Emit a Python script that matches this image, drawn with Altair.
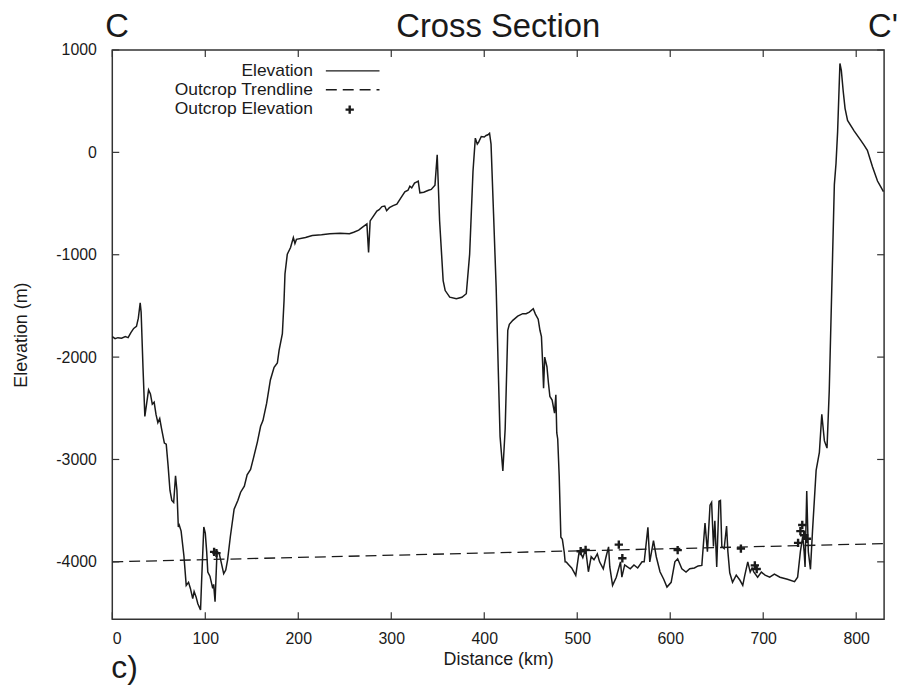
import altair as alt
import pandas as pd

# ---------------- data ----------------
dist = [0, 3, 6, 10, 14, 17, 20, 23, 26, 28, 30, 31, 33, 35, 37, 39, 41, 43, 45, 47,
        49, 51, 53, 56, 58, 60, 62, 64, 66, 68, 69.5, 71, 72, 74, 77, 79.5, 82, 84, 86.5, 88,
        90, 92, 94.9, 96, 98.4, 100, 101.5, 102.7, 105, 108, 109, 110.5, 112.6, 115, 117, 119.8, 122, 124, 127, 131,
        135, 138, 142, 145, 148.7, 152, 156, 159.5, 162, 166, 170, 174, 177.5, 179.4, 182.9, 184.7, 185.7, 188.2, 191.7, 194.7,
        196.4, 198, 207.8, 215, 225, 234, 245, 255, 259.6, 265, 268.4, 273.8, 275.6, 277.3, 281, 284.5, 287, 290, 293, 295,
        298, 302, 306, 310, 314.6, 318, 320, 322, 325, 327, 329, 330.8, 335, 340, 343, 347, 349.4, 352, 355.8, 358,
        362.9, 370, 376, 380.7, 384.3, 387.9, 390.4, 392.5, 394, 396.8, 400, 402, 404, 405.7, 407.3, 410, 412.8, 415, 417, 420,
        422.5, 425.3, 427, 430.7, 436, 441.4, 445, 448.5, 452.7, 455, 458, 459.9, 461.5, 462.8, 463.8, 465, 467.4, 469, 470.6, 473,
        475.6, 477, 478, 479, 480.6, 482.4, 484, 486, 487, 488.4, 491, 494, 498.4, 502, 504, 506, 509, 512, 515, 518,
        521.6, 524, 528, 531, 533.7, 535, 538, 542, 546.5, 548, 551, 554, 557, 561, 565, 569.7, 572, 576, 578, 582,
        585, 589, 593, 596.5, 601, 605, 608, 612.5, 617, 621, 626, 630, 634, 637.4, 640, 642.8, 644.5, 646.5, 648, 650,
        652.4, 654, 655.5, 658, 660.6, 662, 664, 667, 671, 675, 678, 680, 683.4, 686, 688, 690, 694, 698, 702, 707,
        712, 718, 726, 733.7, 737, 740, 742.5, 744, 745, 746.8, 748.5, 750.8, 753, 756.9, 760.4, 763, 765.8, 768.6, 771, 776.5,
        778.3, 780, 782.5, 784, 786, 788, 790.7, 797.9, 804, 808.6, 812, 817.5, 822.9, 826, 829.3]
elev = [-1800, -1820, -1810, -1815, -1800, -1810, -1760, -1720, -1700, -1620, -1470, -1560, -2100, -2580, -2450, -2320, -2360, -2460, -2440, -2560,
        -2640, -2600, -2700, -2840, -2850, -3060, -3300, -3400, -3420, -3160, -3300, -3660, -3640, -3700, -3940, -4230, -4200, -4260, -4360, -4290,
        -4340, -4410, -4470, -4200, -3660, -3720, -3900, -4100, -4140, -4260, -4220, -4390, -3905, -3920, -4000, -4116, -4080, -3980, -3750, -3485,
        -3400, -3320, -3260, -3150, -3097, -2980, -2830, -2676, -2620, -2450, -2223, -2100, -2058, -1932, -1770, -1447, -1188, -994, -929, -832,
        -890, -850, -832, -812, -805, -796, -790, -795, -780, -760, -735, -699, -977, -670, -620, -573, -560, -530, -524, -570,
        -540, -520, -505, -450, -385, -370, -330, -346, -300, -290, -281, -395, -390, -370, -362, -320, -23, -670, -1252, -1350,
        -1414, -1430, -1415, -1381, -994, -184, 139, 80, 100, 155, 150, 165, 172, 187, 80, -600, -1317, -2100, -2774, -3113,
        -2700, -1738, -1680, -1641, -1600, -1576, -1576, -1560, -1528, -1580, -1630, -1738, -1800, -2061, -2304, -2000, -2094, -2250, -2385, -2420,
        -2547, -2369, -2741, -2800, -3162, -3760, -3780, -3906, -4000, -4003, -4030, -4060, -4133, -3903, -3920, -3960, -3874, -4097, -3950, -3980,
        -3922, -4000, -4068, -3950, -3854, -4050, -4230, -4150, -4000, -4150, -4030, -4050, -4068, -4030, -4060, -4000, -4000, -3663, -4000, -3793,
        -3950, -4097, -4170, -4246, -4200, -4000, -3970, -4068, -4100, -4068, -4060, -4040, -4035, -3622, -3900, -3447, -3420, -3850, -3600, -4050,
        -3408, -3400, -3850, -3870, -3650, -3900, -4107, -4200, -4130, -4180, -4229, -4140, -4000, -4100, -4060, -4100, -4150, -4100, -4130, -4150,
        -4120, -4150, -4170, -4194, -4150, -3898, -3750, -3900, -4050, -3307, -3900, -4073, -3700, -3107, -2930, -2558, -2819, -2889, -2331, -315,
        -106, 200, 869, 800, 600, 430, 312, 208, 130, 68, 20, -140, -280, -330, -383]

outcrop_dist = [109.5, 112, 503.7, 509, 544.7, 548.5, 608, 676, 691, 693, 737.5, 740, 742, 744, 747]
outcrop_elev = [-3903, -3915, -3896, -3883, -3832, -3965, -3885, -3870, -4035, -4070, -3815, -3700, -3640, -3740, -3775]

trend_dist = [0, 830]
trend_elev = [-4000, -3822]

x_ticks = [0, 100, 200, 300, 400, 500, 600, 700, 800]
y_ticks = [-4000, -3000, -2000, -1000, 0, 1000]

legend_labels = ["Elevation", "Outcrop Trendline", "Outcrop Elevation"]
title_text = "Cross Section"
left_end = "C"
right_end = "C'"
panel_tag = "c)"

# ---------------- layout / style ----------------
W, H = 777, 573
FONT = "Liberation Sans"
INK = "#1a1a1a"
TICK = 7
XDOM = [0, 830]
YDOM = [-4560, 1000]
PLUS = "M-1,0L1,0M0,-1L0,1"

xs = alt.Scale(domain=XDOM, nice=False, zero=False)
ys = alt.Scale(domain=YDOM, nice=False, zero=False)

xaxis = alt.Axis(
    title="Distance (km)", values=x_ticks, ticks=False, domain=False, grid=False,
    labelFontSize=16, labelPadding=12, labelFont=FONT, labelColor=INK,
    labelExpr="'' + datum.value",
    titleFont=FONT, titleFontSize=18, titleFontWeight="normal", titleColor=INK,
    titleX=W / 2, titleY=41, titleBaseline="middle", titleAlign="center")
yaxis = alt.Axis(
    title="Elevation (m)", values=y_ticks, ticks=False, domain=False, grid=False,
    labelFontSize=16, labelPadding=16, labelFont=FONT, labelColor=INK,
    labelExpr="'' + datum.value",
    titleFont=FONT, titleFontSize=18, titleFontWeight="normal", titleColor=INK,
    titleX=-91, titleY=H / 2, titleBaseline="middle", titleAlign="center", titleAngle=270)


def X(field):
    return alt.X(field, scale=xs, axis=xaxis)


def Y(field):
    return alt.Y(field, scale=ys, axis=yaxis)


prof = pd.DataFrame({"d": dist, "e": elev})
outc = pd.DataFrame({"d": outcrop_dist, "e": outcrop_elev})
trend = pd.DataFrame({"d": trend_dist, "e": trend_elev})
xt = pd.DataFrame({"d": x_ticks})
yt = pd.DataFrame({"e": y_ticks})

line = alt.Chart(prof).mark_line(color=INK, strokeWidth=1.5).encode(x=X("d:Q"), y=Y("e:Q"))

trend_line = alt.Chart(trend).mark_line(color=INK, strokeWidth=1.3, strokeDash=[11, 6]).encode(
    x=X("d:Q"), y=Y("e:Q"))

marks = alt.Chart(outc).mark_point(shape=PLUS, filled=False, stroke=INK, strokeWidth=2.4,
                                   size=70, opacity=1).encode(x=X("d:Q"), y=Y("e:Q"))

tick_style = dict(color="#333", strokeWidth=1.2)
bt = alt.Chart(xt).mark_rule(**tick_style).encode(x=X("d:Q"), y=alt.value(H), y2=alt.value(H - TICK))
tt = alt.Chart(xt).mark_rule(**tick_style).encode(x=X("d:Q"), y=alt.value(0), y2=alt.value(TICK))
lt = alt.Chart(yt).mark_rule(**tick_style).encode(y=Y("e:Q"), x=alt.value(0), x2=alt.value(TICK))
rt = alt.Chart(yt).mark_rule(**tick_style).encode(y=Y("e:Q"), x=alt.value(W), x2=alt.value(W - TICK))

# legend (gnuplot style: text on the left, sample on the right)
leg_rows = [21, 40, 59]
leg_layers = []
for lab, yy in zip(legend_labels, leg_rows):
    leg_layers.append(
        alt.Chart(pd.DataFrame({"label": [lab]})).mark_text(
            align="right", baseline="middle", fontSize=17.5, font=FONT, color=INK
        ).encode(text="label:N", x=alt.value(202), y=alt.value(yy))
    )
leg_layers.append(alt.Chart(pd.DataFrame({"k": [0]})).mark_rule(color=INK, strokeWidth=1.4).encode(
    x=alt.value(215), x2=alt.value(269), y=alt.value(leg_rows[0])))
leg_layers.append(alt.Chart(pd.DataFrame({"k": [0]})).mark_rule(
    color=INK, strokeWidth=1.3, strokeDash=[11, 6]).encode(
    x=alt.value(215), x2=alt.value(269), y=alt.value(leg_rows[1])))
leg_layers.append(alt.Chart(pd.DataFrame({"k": [0]})).mark_point(
    shape=PLUS, filled=False, stroke=INK, strokeWidth=2.4, size=70, opacity=1).encode(
    x=alt.value(239), y=alt.value(leg_rows[2] + 1)))


def label(txt, x, y, align, size, baseline="alphabetic"):
    return alt.Chart(pd.DataFrame({"label": [txt]})).mark_text(
        align=align, baseline=baseline, fontSize=size, font=FONT, color=INK
    ).encode(text="label:N", x=alt.value(x), y=alt.value(y))


titles = [
    label(title_text, W / 2, -13, "center", 33),
    label(left_end, -7, -13, "left", 33),
    label(right_end, W + 14, -13, "right", 33),
    label(panel_tag, -1, 632, "left", 32),
]

chart = alt.layer(line, trend_line, marks, bt, tt, lt, rt, *leg_layers, *titles).properties(
    width=W, height=H,
    padding={"left": 105, "top": 40, "right": 15, "bottom": 65},
    autosize=alt.AutoSizeParams(type="none"),
    background="white",
).configure_view(stroke="#333", strokeWidth=1.5)

chart.save("out.html", embed_options={"renderer": "svg", "actions": False})
